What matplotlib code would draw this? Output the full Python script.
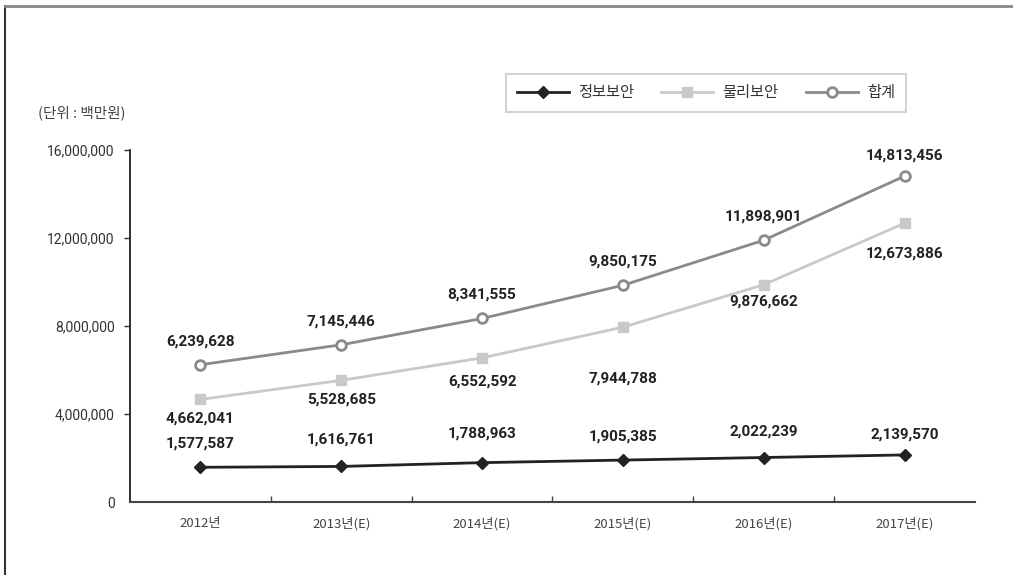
import matplotlib
matplotlib.use("Agg")
import matplotlib.pyplot as plt
from matplotlib.lines import Line2D
from matplotlib.ticker import FuncFormatter

plt.rcParams['font.family'] = ['Noto Sans CJK KR', 'DejaVu Sans']

years = ['2012년', '2013년(E)', '2014년(E)', '2015년(E)', '2016년(E)', '2017년(E)']
info_sec = [1577587, 1616761, 1788963, 1905385, 2022239, 2139570]
phys_sec = [4662041, 5528685, 6552592, 7944788, 9876662, 12673886]
total = [6239628, 7145446, 8341555, 9850175, 11898901, 14813456]
series_names = ['정보보안', '물리보안', '합계']
y_ticks = [0, 4000000, 8000000, 12000000, 16000000]
unit_label = '(단위 : 백만원)'

# label vertical offsets in points (style only)
info_off = [17, 19, 21, 17, 19, 15]
phys_off = [-14, -14, -17, -37, -12, -22]
total_off = [17, 17, 17, 17, 17, 15]

fig = plt.figure(figsize=(10.13, 5.75), dpi=100)
ax = fig.add_axes([130/1013, 73/575, 845/1013, 352/575])

x = list(range(len(years)))
num_font = dict(family=['Roboto', 'DejaVu Sans'], fontweight='bold', fontsize=11, color='#222222')

l_total, = ax.plot(x, total, color='#8a8a8a', lw=2, marker='o', ms=7,
                   mfc='white', mec='#8a8a8a', mew=2, zorder=3)
l_phys, = ax.plot(x, phys_sec, color='#c9c9c9', lw=2, marker='s', ms=6.5,
                  mfc='#c9c9c9', mec='#c9c9c9', zorder=3)
l_info, = ax.plot(x, info_sec, color='#222222', lw=2, marker='D', ms=6.5,
                  mfc='#222222', mec='#222222', zorder=4)

for i in x:
    ax.annotate(f'{total[i]:,}', (i, total[i]), xytext=(0, total_off[i]),
                textcoords='offset points', ha='center', va='center', **num_font)
    ax.annotate(f'{phys_sec[i]:,}', (i, phys_sec[i]), xytext=(0, phys_off[i]),
                textcoords='offset points', ha='center', va='center', **num_font)
    ax.annotate(f'{info_sec[i]:,}', (i, info_sec[i]), xytext=(0, info_off[i]),
                textcoords='offset points', ha='center', va='center', **num_font)

ax.set_xlim(-0.5, len(years) - 0.5)
ax.set_ylim(0, 16000000)
ax.set_xticks(x)
ax.set_xticklabels(years, fontsize=9.5, color='#444444')
ax.tick_params(axis='x', which='major', length=0, pad=11)
ax.set_xticks([i + 0.5 for i in x[:-1]], minor=True)
ax.tick_params(axis='x', which='minor', direction='in', length=4, color='#444444', width=1)

ax.set_yticks(y_ticks)
ax.yaxis.set_major_formatter(FuncFormatter(lambda v, p: f'{int(v):,}'))
ax.tick_params(axis='y', length=4, width=1, color='#333333', pad=7, labelsize=10, labelcolor='#333333')
for lab in ax.get_yticklabels():
    lab.set_family(['Roboto', 'DejaVu Sans'])
ax.yaxis.get_major_ticks()[0].tick1line.set_visible(False)

for s in ['top', 'right']:
    ax.spines[s].set_visible(False)
ax.spines['left'].set_color('#222222')
ax.spines['left'].set_linewidth(1.3)
ax.spines['bottom'].set_color('#444444')
ax.spines['bottom'].set_linewidth(1.5)

fig.text(38/1013, 1 - 113/575, unit_label, fontsize=10.5, color='#444444', ha='left', va='center')

leg = fig.legend([l_info, l_phys, l_total], series_names, loc='center',
                 bbox_to_anchor=(706/1013, 1 - 93/575), ncol=3, fontsize=11,
                 handlelength=3.4, handletextpad=0.6, columnspacing=1.8,
                 frameon=True, fancybox=False, borderpad=0.7)
leg.get_frame().set_edgecolor('#c8c8c8')
leg.get_frame().set_linewidth(1.5)
for t in leg.get_texts():
    t.set_color('#333333')

# outer frame lines (left and top)
fig.add_artist(Line2D([5/1013, 5/1013], [0, 1 - 6/575], transform=fig.transFigure,
                      color='#333333', lw=1.5))
fig.add_artist(Line2D([5/1013, 1], [1 - 6/575, 1 - 6/575], transform=fig.transFigure,
                      color='#888888', lw=2))

fig.savefig('out.png', dpi=100)
